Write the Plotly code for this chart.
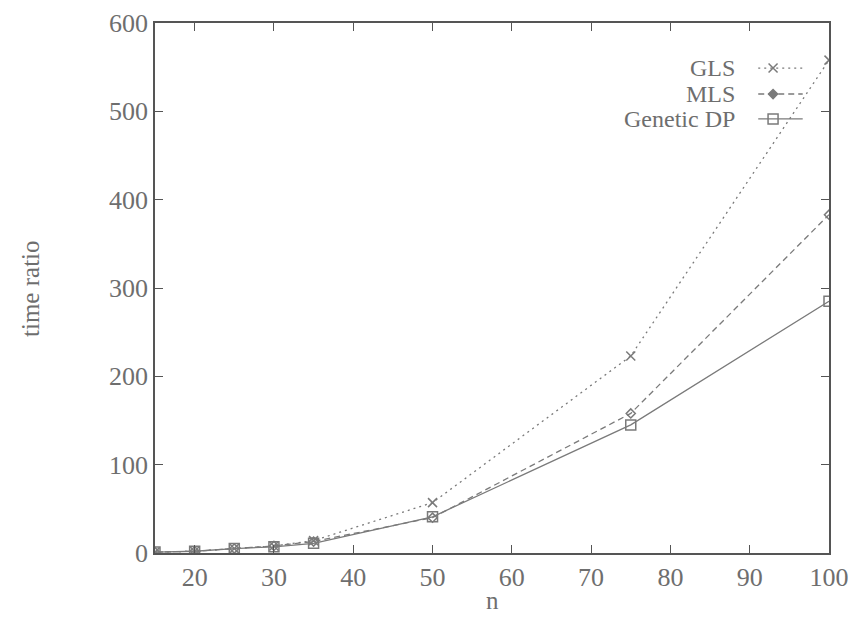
import plotly.graph_objects as go

n = [15, 20, 25, 30, 35, 50, 75, 100]
gls = [1, 2, 5, 8, 14, 57, 223, 558]
mls = [1, 2, 5, 8, 13, 40, 158, 383]
gdp = [1, 2, 5, 7, 11, 41, 145, 285]
names = ["GLS", "MLS", "Genetic DP"]
x_ticks = [20, 30, 40, 50, 60, 70, 80, 90, 100]
y_ticks = [0, 100, 200, 300, 400, 500, 600]

col = "#7a7a7a"
axcol = "#555555"
fam = "Liberation Serif, Times New Roman, serif"
font = dict(family=fam, size=25, color="#6e6e6e")
lfont = dict(family=fam, size=24, color="#6e6e6e")
tfont = dict(family=fam, size=26, color="#6e6e6e")

styles = [
    dict(dash="2px,4px", symbol="x-thin", msize=9, lsym="x-thin"),
    dict(dash="6px,4px", symbol="diamond-open", msize=7, lsym="diamond"),
    dict(dash="solid", symbol="square-open", msize=10, lsym="square-open"),
]

fig = go.Figure()
for name, ys, st in zip(names, [gls, mls, gdp], styles):
    fig.add_trace(go.Scatter(
        x=n, y=ys, mode="lines+markers", name=name, showlegend=False,
        line=dict(color=col, width=1.3, dash=st["dash"]),
        marker=dict(symbol=st["symbol"], size=st["msize"], color=col,
                    line=dict(color=col, width=1.5)),
    ))

# gnuplot-style legend: right-aligned text with key sample to its right
leg_y = [0.915, 0.866, 0.819]
for name, st, ly in zip(names, styles, leg_y):
    fig.add_annotation(xref="paper", yref="paper", x=0.862, y=ly, text=name,
                       showarrow=False, xanchor="right", yanchor="middle",
                       font=lfont, borderpad=0)
    fig.add_trace(go.Scatter(
        x=[0.895, 0.917, 0.961], y=[ly, ly, ly], xaxis="x2", yaxis="y2",
        mode="lines", showlegend=False, hoverinfo="skip",
        line=dict(color=col, width=1.3, dash=st["dash"]),
    ))
    fig.add_trace(go.Scatter(
        x=[0.917], y=[ly], xaxis="x2", yaxis="y2",
        mode="markers", showlegend=False, hoverinfo="skip",
        marker=dict(symbol=st["lsym"], size=st["msize"], color=col,
                    line=dict(color=col, width=1.5)),
    ))

fig.add_annotation(xref="paper", yref="paper", x=-0.1855, y=0.5, text="time ratio",
                   textangle=-90, showarrow=False, xanchor="center", yanchor="middle", font=font)
fig.add_annotation(xref="paper", yref="paper", x=0.5, y=-0.089, text="n",
                   showarrow=False, xanchor="center", yanchor="middle", font=font)

fig.update_layout(
    width=851, height=619,
    margin=dict(l=155, r=22, t=23, b=66),
    plot_bgcolor="white", paper_bgcolor="white",
    font=font,
    xaxis=dict(range=[15, 100], tickvals=x_ticks, ticks="inside", ticklen=8,
               tickcolor=axcol, showline=True, linecolor=axcol, linewidth=1.5,
               mirror="allticks", showgrid=False, zeroline=False, automargin=False,
               tickfont=tfont),
    yaxis=dict(range=[0, 600], tickvals=y_ticks, ticks="inside", ticklen=8,
               tickcolor=axcol, showline=True, linecolor=axcol, linewidth=1.5,
               mirror="allticks", showgrid=False, zeroline=False, automargin=False,
               tickfont=tfont),
    xaxis2=dict(range=[0, 1], domain=[0, 1], overlaying="x", visible=False, fixedrange=True),
    yaxis2=dict(range=[0, 1], domain=[0, 1], overlaying="y", visible=False, fixedrange=True),
)

fig.write_html("out.html", config={"displayModeBar": False},
               post_script="document.body.style.margin='0';document.body.style.overflow='hidden';")
